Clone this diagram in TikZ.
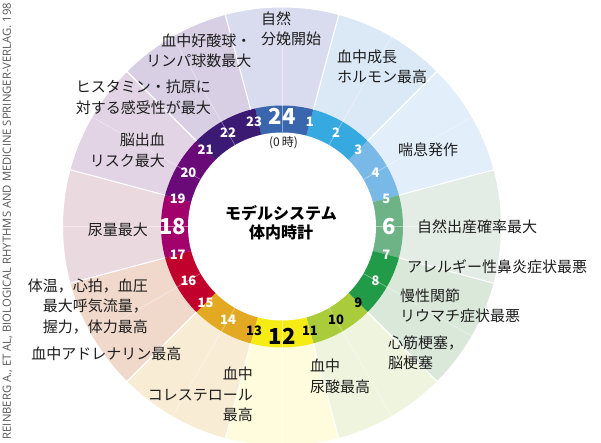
\documentclass[tikz,border=0pt]{standalone}
\usepackage{fontspec}
\setmainfont{Noto Sans CJK JP}
\newfontfamily\creditfont{Open Sans}
\definecolor{r0}{HTML}{3A66AD}
\definecolor{r1}{HTML}{36A9E1}
\definecolor{r2}{HTML}{79B9E8}
\definecolor{r3}{HTML}{6DB386}
\definecolor{r4}{HTML}{229B48}
\definecolor{r5}{HTML}{AACB3A}
\definecolor{r6}{HTML}{F6EB14}
\definecolor{r7}{HTML}{E3A922}
\definecolor{r8}{HTML}{C1002B}
\definecolor{r9}{HTML}{A2006A}
\definecolor{r10}{HTML}{6A0A79}
\definecolor{r11}{HTML}{3B1A74}
\definecolor{w0}{HTML}{D9DBEE}
\definecolor{w1}{HTML}{DBE9F7}
\definecolor{w2}{HTML}{E2EFFA}
\definecolor{w3}{HTML}{E4EDE5}
\definecolor{w4}{HTML}{DAE8DA}
\definecolor{w5}{HTML}{EFF4DE}
\definecolor{w6}{HTML}{FEFCDC}
\definecolor{w7}{HTML}{F8ECD4}
\definecolor{w8}{HTML}{F0D9CB}
\definecolor{w9}{HTML}{EBD9E0}
\definecolor{w10}{HTML}{E2D4E5}
\definecolor{w11}{HTML}{D8CFE4}
\definecolor{txt}{HTML}{1E1E1E}
\tikzset{
  lab/.style={font=\fontsize{15}{20.5}\selectfont, inner sep=0pt, text=txt},
  hr/.style={font=\bfseries\fontsize{13}{13}\selectfont, inner sep=0pt},
  bighr/.style={font=\bfseries\fontsize{22}{22}\selectfont, inner sep=0pt},
}
\begin{document}
\begin{tikzpicture}[x=1pt,y=1pt]
\useasboundingbox (-282,-216.5) rectangle (319,226.5);
% outer pale wedges
\foreach \k in {0,...,11}{
  \fill[w\k] (0,0) -- ({105-30*\k}:225) arc[start angle={105-30*\k}, end angle={75-30*\k}, radius=225pt] -- cycle;
}
% white outside the outer radius
\fill[white, even odd rule] (0,0) circle[radius=219pt] (-300,-300) rectangle (340,300);
% ring sectors
\foreach \k in {1,...,10}{
  \fill[r\k] (0,0) -- ({105-30*\k}:121) arc[start angle={105-30*\k}, end angle={75-30*\k}, radius=121pt] -- cycle;
}
\fill[r0] (0,0) -- (102.75:121) arc[start angle=102.75, end angle=75, radius=121pt] -- cycle;
\fill[r11] (0,0) -- (-225:121) arc[start angle=-225, end angle=-257.25, radius=121pt] -- cycle;
\fill[white] (0,0) circle[radius=94pt];
% faint even-hour lines
\foreach \h in {0,2,...,22}{
  \draw[white, opacity=0.45, line width=0.6pt] ({90-15*\h}:94) -- ({90-15*\h}:219);
}
% strong odd-hour lines
\foreach \h in {1,3,...,23}{
  \draw[white, line width=1.1pt] ({90-15*\h}:121) -- ({90-15*\h}:219);
}
% hour numbers
\foreach \h/\c in {1/white,2/white,3/white,4/white,5/white,7/white,8/white,9/black,10/black,11/black,13/black,14/white,15/white,16/white,17/white,19/white,20/white,21/white,22/white,23/white}{
  \node[hr, text=\c] (h\h) at ({90-15*\h}:108) {\h};
}
\node[bighr, text=white] (h24) at (90:110) {24};
\node[bighr, text=white] (h6) at (0:107.5) {6};
\node[bighr, text=black] (h12) at (-90:110) {12};
\node[bighr, text=white] (h18) at (180:109) {18};
% centre
\node[font=\fontsize{12}{12}\selectfont, inner sep=0pt, text=txt] (zero) at (1.5,84) {(0\,時)};
\node[font=\bfseries\fontsize{16}{19.5}\selectfont, inner sep=0pt, align=center, text=black] (title) at (-1,3.5) {モデルシステム\\体内時計};
% labels
\node[lab, anchor=west, align=left] (t1) at (-21,197.5) {自然\\分娩開始};
\node[lab, anchor=east, align=right] (t2) at (-30.5,175.75) {血中好酸球・\\リンパ球数最大};
\node[lab, align=center] (t3) at (-138.5,129) {ヒスタミン・抗原に\\対する感受性が最大};
\node[lab, anchor=east, align=right] (t4) at (-117,76) {脳出血\\リスク最大};
\node[lab, anchor=east] (t5) at (-134,-3.5) {尿量最大};
\node[lab, anchor=east, align=right] (t6) at (-134,-79.5) {体温，心拍，血圧\\最大呼気流量，\\握力，体力最高};
\node[lab] (t7) at (-175.5,-127) {血中アドレナリン最高};
\node[lab, anchor=east, align=right] (t8) at (-29,-168) {血中\\コレステロール\\最高};
\node[lab, anchor=west, align=left] (t9) at (28,-150) {血中\\尿酸最高};
\node[lab, anchor=west, align=left] (t10) at (106,-126.5) {心筋梗塞，\\脳梗塞};
\node[lab, anchor=west, align=left] (t11) at (118,-79.25) {慢性関節\\リウマチ症状最悪};
\node[lab, anchor=west] (t12) at (125,-40) {アレルギー性鼻炎症状最悪};
\node[lab, anchor=west] (t13) at (135,0) {自然出産確率最大};
\node[lab, anchor=west] (t14) at (116,76.5) {喘息発作};
\node[lab, anchor=west, align=left] (t15) at (55,159.5) {血中成長\\ホルモン最高};
% credit
\node[rotate=90, anchor=west, inner sep=0pt, text=black!65, font=\creditfont\fontsize{11.3}{13}\selectfont] (credit) at (-274.5,-213) {REINBERG A., ET AL, BIOLOGICAL RHYTHMS AND MEDICINE SPRINGER-VERLAG. 198};
\end{tikzpicture}
\end{document}
